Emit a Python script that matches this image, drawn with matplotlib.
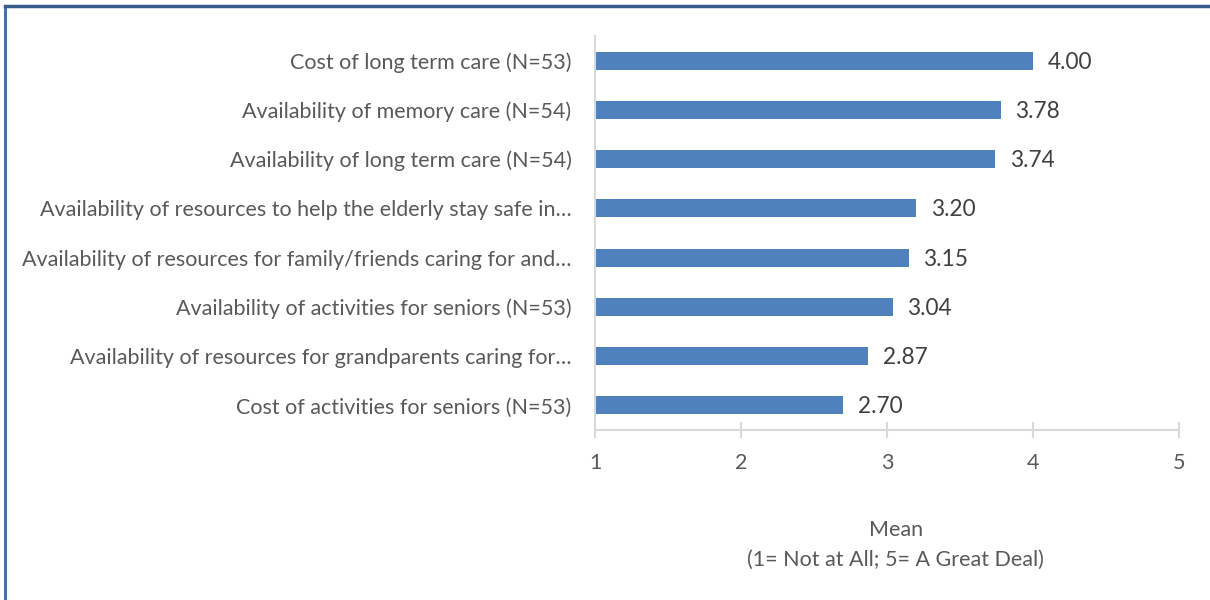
import matplotlib.pyplot as plt
from matplotlib.lines import Line2D

# ----------------------------
# Data (top to bottom as shown)
# ----------------------------
categories = [
    "Cost of long term care (N=53)",
    "Availability of memory care (N=54)",
    "Availability of long term care (N=54)",
    "Availability of resources to help the elderly stay safe in\u2026",
    "Availability of resources for family/friends caring for and\u2026",
    "Availability of activities for seniors (N=53)",
    "Availability of resources for grandparents caring for\u2026",
    "Cost of activities for seniors (N=53)",
]
means = [4.00, 3.78, 3.74, 3.20, 3.15, 3.04, 2.87, 2.70]
xticks = [1, 2, 3, 4, 5]

BAR = "#4F81BD"
TEXT = "#595959"
GRID = "#D9D9D9"

plt.rcParams["font.family"] = ["Lato", "DejaVu Sans"]

fig = plt.figure(figsize=(12.1, 6), dpi=100)
ax = fig.add_axes([595 / 1210, 170 / 600, 584 / 1210, 394 / 600])

pos = list(range(len(categories)))[::-1]
ax.barh(pos, [m - 1 for m in means], left=1, height=0.37, color=BAR)

# value labels
for p, m in zip(pos, means):
    ax.text(m + 0.1, p - 0.03, f"{m:.2f}", va="center", ha="left",
            fontsize=16.3, color="#404040")

ax.set_xlim(1, 5)
ax.set_ylim(-0.5, len(categories) - 0.5)
ax.set_xticks(xticks)
ax.set_xticklabels([str(t) for t in xticks])
ax.set_yticks(pos)
ax.set_yticklabels(categories)

for s in ["top", "right"]:
    ax.spines[s].set_visible(False)
for s in ["left", "bottom"]:
    ax.spines[s].set_color(GRID)
    ax.spines[s].set_linewidth(1.5)

ax.tick_params(axis="x", direction="inout", length=11, width=1.5, color=GRID,
               labelsize=15.5, labelcolor=TEXT, pad=11)
ax.tick_params(axis="y", length=0, labelsize=15.5, labelcolor=TEXT, pad=17)

ax.set_xlabel("Mean\n(1= Not at All; 5= A Great Deal)", fontsize=15.5,
              color=TEXT, labelpad=34, linespacing=1.6)
ax.xaxis.label.set_x(0.515)

# frame lines around the chart area
fig.add_artist(Line2D([5 / 1210, 5 / 1210], [0, 1 - 6 / 600], color="#4A6FA5", lw=2.2,
                      transform=fig.transFigure))
fig.add_artist(Line2D([5 / 1210, 1], [1 - 6 / 600, 1 - 6 / 600], color="#385D8A", lw=2.5,
                      transform=fig.transFigure))

plt.savefig("out.png", dpi=100)
